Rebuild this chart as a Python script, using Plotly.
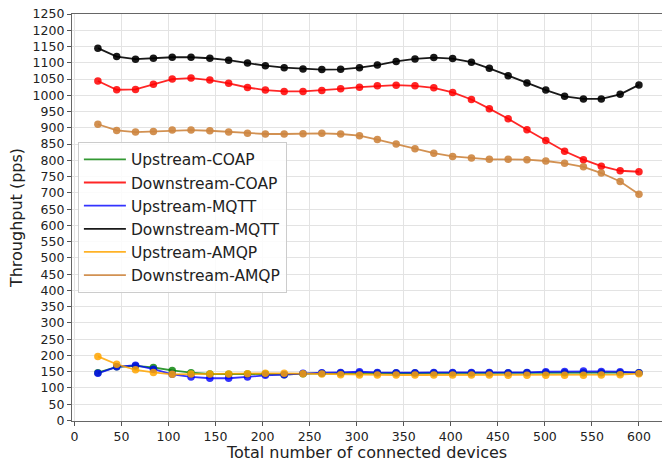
import plotly.graph_objects as go

devices = [25, 45, 65, 84, 104, 124, 144, 164, 184, 203, 223, 243, 263, 283, 303,
           322, 342, 362, 382, 402, 422, 441, 461, 481, 501, 521, 541, 560, 580, 600]

up_coap = [147, 165, 168, 163, 154, 147, 143, 142, 143, 143, 141, 144, 145, 146, 146,
           146, 146, 146, 146, 146, 146, 146, 146, 147, 147, 147, 147, 147, 147, 147]
down_coap = [1044, 1017, 1018, 1034, 1050, 1053, 1047, 1037, 1024, 1016, 1012, 1012, 1015, 1020, 1025,
             1029, 1031, 1029, 1023, 1009, 987, 959, 928, 894, 861, 828, 802, 782, 768, 765]
up_mqtt = [145, 165, 170, 158, 142, 134, 130, 130, 134, 139, 141, 145, 147, 148, 150,
           148, 147, 147, 148, 148, 148, 148, 147, 148, 150, 151, 152, 151, 150, 147]
down_mqtt = [1145, 1119, 1111, 1114, 1117, 1117, 1114, 1108, 1099, 1091, 1085, 1081, 1079, 1080, 1085,
             1093, 1104, 1112, 1116, 1113, 1102, 1083, 1060, 1038, 1016, 997, 989, 989, 1003, 1032]
up_amqp = [197, 173, 156, 148, 142, 143, 143, 143, 144, 145, 145, 144, 143, 141, 140,
           140, 140, 140, 140, 140, 140, 140, 139, 139, 139, 139, 139, 140, 141, 144]
down_amqp = [911, 892, 887, 889, 893, 893, 891, 887, 883, 881, 881, 882, 883, 881, 876,
             864, 850, 836, 822, 812, 807, 803, 803, 802, 798, 791, 780, 761, 735, 696]

series = [
    ("Upstream-COAP", up_coap, "rgba(0,128,0,0.8)"),
    ("Downstream-COAP", down_coap, "rgba(255,0,0,0.85)"),
    ("Upstream-MQTT", up_mqtt, "rgba(0,0,255,0.8)"),
    ("Downstream-MQTT", down_mqtt, "rgba(0,0,0,0.9)"),
    ("Upstream-AMQP", up_amqp, "rgba(255,165,0,0.85)"),
    ("Downstream-AMQP", down_amqp, "rgba(205,133,63,0.9)"),
]

fig = go.Figure()
for name, vals, col in series:
    fig.add_trace(go.Scatter(x=devices, y=vals, mode="lines", name=name,
                             line=dict(color=col, width=1.8)))
for name, vals, col in series:
    fig.add_trace(go.Scatter(x=devices, y=vals, mode="markers", name=name,
                             marker=dict(color=col, size=7.5), showlegend=False))

axis_common = dict(
    showgrid=True, gridcolor="#e3e3e3", gridwidth=1,
    showline=True, linecolor="#666", linewidth=1.2, mirror=True,
    ticks="outside", ticklen=4, tickcolor="#555",
    tickfont=dict(family="DejaVu Sans", size=12.5, color="#222"),
    zeroline=False,
)

fig.update_xaxes(range=[-2.5, 624.5], dtick=50, tick0=0,
                 title=dict(text="Total number of connected devices",
                            font=dict(family="DejaVu Sans", size=16, color="#222"),
                            standoff=6),
                 **axis_common)
fig.update_yaxes(range=[-1.5, 1250], dtick=50, tick0=0,
                 title=dict(text="Throughput (pps)",
                            font=dict(family="DejaVu Sans", size=16, color="#222"),
                            standoff=5),
                 **axis_common)

fig.update_layout(
    width=662, height=462,
    margin=dict(l=72, r=0, t=14, b=41),
    plot_bgcolor="white", paper_bgcolor="white",
    font=dict(family="DejaVu Sans", color="#222"),
    legend=dict(x=0.01, y=0.686, xanchor="left", yanchor="top",
                bgcolor="rgba(255,255,255,0.85)", bordercolor="#cccccc", borderwidth=1,
                font=dict(family="DejaVu Sans", size=15.5, color="#222"),
                itemwidth=42),
)

fig.write_html("out.html")
